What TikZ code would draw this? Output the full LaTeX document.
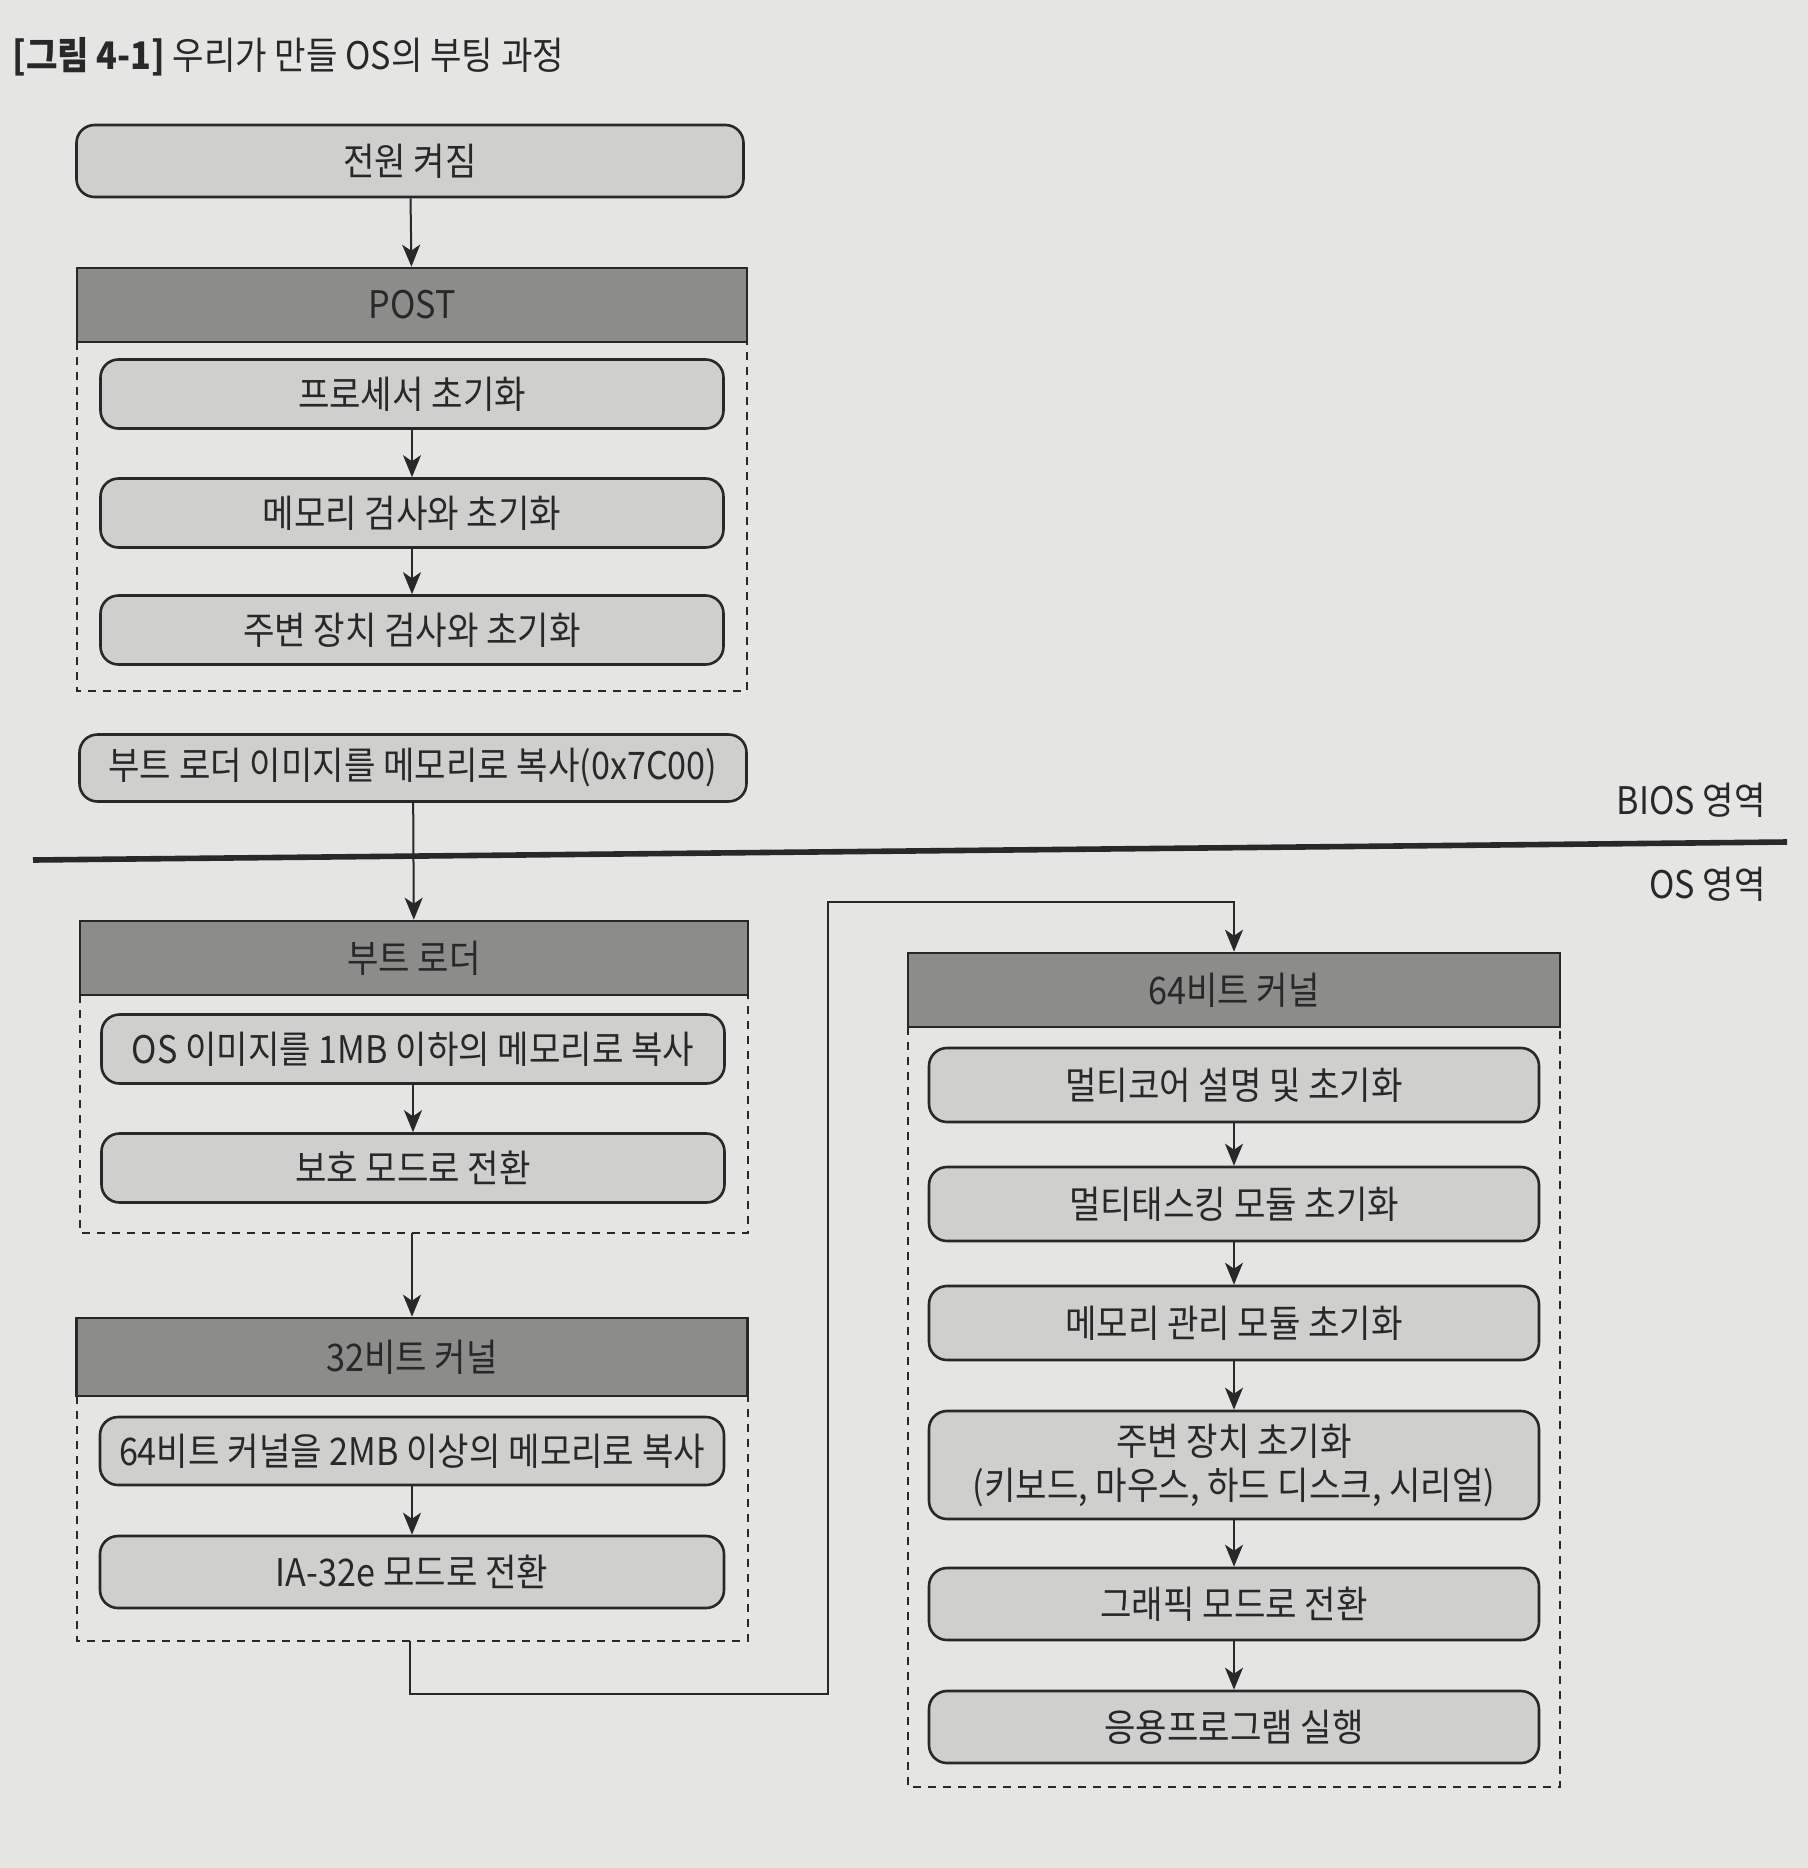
\documentclass[tikz,border=0pt]{standalone}
\usepackage{fontspec}
\setmainfont{Noto Sans CJK KR}[FakeStretch=0.9]
\usetikzlibrary{arrows.meta}
\definecolor{bg}{RGB}{229,229,227}
\definecolor{boxfill}{RGB}{207,207,205}
\definecolor{headfill}{RGB}{140,140,138}
\definecolor{ink}{RGB}{40,40,40}
\tikzset{
  stepbox/.style={draw=ink, line width=1.3pt, fill=boxfill, rounded corners=9pt,
    minimum width=305pt, minimum height=35pt, inner sep=0pt, align=center,
    font=\fontsize{19}{22}\selectfont, text=ink},
  headbox/.style={draw=ink, line width=1.3pt, fill=headfill, minimum height=37pt,
    inner sep=0pt, font=\fontsize{19}{22}\selectfont, text=ink},
  frame/.style={draw=ink, line width=0.8pt, dash pattern=on 4pt off 3.5pt},
  conn/.style={draw=ink, line width=1pt, -{Stealth[length=11pt,width=9pt,inset=3pt]}},
  area/.style={font=\fontsize{19}{22}\selectfont, text=ink, inner sep=0pt, anchor=east}
}
\begin{document}
\begin{tikzpicture}[x=0.5pt,y=-0.5pt]
\fill[bg] (0,0) rectangle (1808,1868);
\useasboundingbox (0,0) rectangle (1808,1868);

% title
\node[anchor=west, inner sep=0pt, text=ink, font=\fontsize{19}{23}\selectfont] (title) at (12,57)
  {\textbf{[그림 4-1]} 우리가 만들 OS의 부팅 과정};

% BIOS area
\node[stepbox, minimum width=333.5pt, minimum height=36pt] (power) at (410,161) {전원 켜짐};
\draw[frame] (77,342) rectangle (747,691);
\node[headbox, minimum width=335pt] (postH) at (412,305) {POST};
\node[stepbox, minimum width=311.5pt, minimum height=34.5pt] (p1) at (412,394) {프로세서 초기화};
\node[stepbox, minimum width=311.5pt, minimum height=34.5pt] (p2) at (412,513) {메모리 검사와 초기화};
\node[stepbox, minimum width=311.5pt, minimum height=34.5pt] (p3) at (412,630) {주변 장치 검사와 초기화};
\node[stepbox, minimum width=333.5pt, minimum height=33.5pt] (bootcopy) at (413,768) {부트 로더 이미지를 메모리로 복사(0x7C00)};

% separator
\draw[ink, line width=2.8pt] (33,860) -- (1787,842);
\node[area] (bios) at (1766,800) {BIOS 영역};
\node[area] (osarea) at (1766,884) {OS 영역};

% boot loader
\draw[frame] (80,995) rectangle (748,1233);
\node[headbox, minimum width=334pt] (blH) at (414,958) {부트 로더};
\node[stepbox, minimum width=311.5pt, minimum height=34.5pt] (b1) at (413,1049) {OS 이미지를 1MB 이하의 메모리로 복사};
\node[stepbox, minimum width=311.5pt, minimum height=34.5pt] (b2) at (413,1168) {보호 모드로 전환};
\coordinate (blbot) at (412,1233);

% 32-bit kernel
\draw[frame] (77,1396) rectangle (748,1641);
\node[headbox, minimum width=335.5pt, minimum height=39pt] (k32H) at (412,1357) {32비트 커널};
\node[stepbox, minimum width=312pt, minimum height=34pt] (k1) at (412,1451) {64비트 커널을 2MB 이상의 메모리로 복사};
\node[stepbox, minimum width=312pt, minimum height=36pt] (k2) at (412,1572) {IA-32e 모드로 전환};
\coordinate (k32bot) at (410,1641);

% 64-bit kernel
\draw[frame] (908,1027) rectangle (1560,1787);
\node[headbox, minimum width=326pt] (k64H) at (1234,990) {64비트 커널};
\node[stepbox, minimum width=305pt, minimum height=37pt] (m1) at (1234,1085) {멀티코어 설명 및 초기화};
\node[stepbox, minimum width=305pt, minimum height=37pt] (m2) at (1234,1204) {멀티태스킹 모듈 초기화};
\node[stepbox, minimum width=305pt, minimum height=37pt] (m3) at (1234,1323) {메모리 관리 모듈 초기화};
\node[stepbox, minimum width=305pt, minimum height=54pt] (m4) at (1234,1465) {주변 장치 초기화\\(키보드, 마우스, 하드 디스크, 시리얼)};
\node[stepbox, minimum width=305pt, minimum height=36pt] (m5) at (1234,1604) {그래픽 모드로 전환};
\node[stepbox, minimum width=305pt, minimum height=36pt] (m6) at (1234,1727) {응용프로그램 실행};

% connectors
\draw[conn] (power) -- (postH);
\draw[conn] (p1) -- (p2);
\draw[conn] (p2) -- (p3);
\draw[conn] (bootcopy) -- (blH);
\draw[conn] (b1) -- (b2);
\draw[conn] (blbot) -- (k32H.north |- blbot) -- (k32H.north);
\draw[conn] (k1) -- (k2);
\draw[conn] (k32bot) -- (410,1694) -- (828,1694) -- (828,902) -| (k64H.north);
\draw[conn] (m1) -- (m2);
\draw[conn] (m2) -- (m3);
\draw[conn] (m3) -- (m4);
\draw[conn] (m4) -- (m5);
\draw[conn] (m5) -- (m6);
\end{tikzpicture}
\end{document}
